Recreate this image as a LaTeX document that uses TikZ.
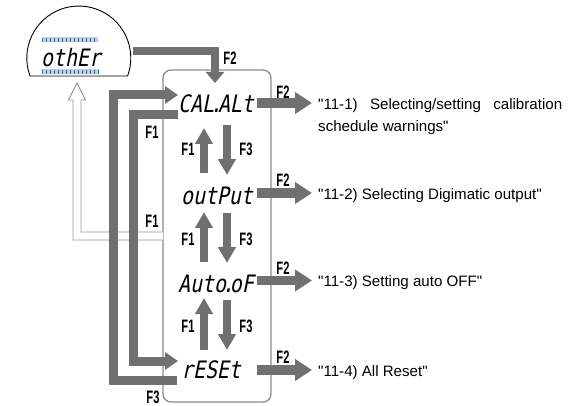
\documentclass[tikz,border=0pt]{standalone}
\usepackage{fontspec}
\setmainfont{Liberation Sans}[Ligatures=TeXOff]
\newfontfamily\segfont[FakeSlant=0.2,FakeStretch=0.83]{DejaVu Sans Mono}
\newfontfamily\keyfont[FakeStretch=0.62]{Liberation Sans}
\usetikzlibrary{arrows.meta}
\definecolor{arrowgray}{RGB}{112,112,112}
\definecolor{boxgray}{RGB}{140,140,140}
\definecolor{hollowgray}{RGB}{150,150,150}
\definecolor{lcdblue}{RGB}{180,212,240}
\definecolor{lcddark}{RGB}{70,95,130}
\begin{document}
\begin{tikzpicture}[x=1pt,y=-1pt,
  seg/.style={font=\segfont\fontsize{24}{24}\selectfont, inner sep=0pt, anchor=base},
  key/.style={font=\keyfont\bfseries\fontsize{18}{18}\selectfont, inner sep=0pt, text=black},
  desc/.style={font=\fontsize{15.1}{21}\selectfont, inner sep=0pt, anchor=base west},
  fat/.style={draw=arrowgray, line width=9.5pt, -{Triangle[length=17pt,width=21pt]}},
  loop/.style={draw=arrowgray, line width=9pt, line join=miter, -{Triangle[length=13pt,width=17pt]}},
  topflow/.style={draw=arrowgray, line width=8.5pt, line join=miter, -{Triangle[length=11pt,width=18pt]}},
  slim/.style={draw=arrowgray, line width=8.5pt, -{Triangle[length=16pt,width=17pt]}},
]
\useasboundingbox (0,0) rectangle (584,406);

% display "othEr"
\draw[line width=0.9pt] (30,76) arc[start angle=159.8, end angle=380.2, radius=52] -- cycle;
\draw[lcdblue, line width=5pt] (42,40) -- (98,40);
\draw[lcddark, line width=4pt, dash pattern=on 0.7pt off 3.3pt] (42,40) -- (98,40);
\draw[lcdblue, line width=5pt] (42,72) -- (99,72);
\draw[lcddark, line width=4pt, dash pattern=on 0.7pt off 3.3pt] (42,72) -- (99,72);
\node[seg] (oth) at (71,67) {othEr};

% menu box
\draw[boxgray, line width=1.3pt, rounded corners=8pt] (163,70) rectangle (271,402);

% hollow F1 arrow from outPut back to the display
\coordinate (hA) at (163,240);
\coordinate (hB) at (73,240);
\coordinate (hC) at (73,100);
\coordinate (hD) at (68.5,100);
\coordinate (hE) at (77,83);
\coordinate (hF) at (85.5,100);
\coordinate (hG) at (81,100);
\coordinate (hH) at (81,232);
\coordinate (hI) at (163,232);
\filldraw[fill=white, draw=hollowgray, line width=0.9pt]
  (hA) -- (hB) -- (hC) -- (hD) -- (hE) -- (hF) -- (hG) -- (hH) -- (hI);

% mode nodes
\node[seg] (cal) at (216,113) {CAL\kern-4pt.\kern-4pt ALt};
\node[seg] (out) at (217,205) {outPut};
\node[seg] (auto) at (216,292) {Auto\kern-4pt.\kern-4pt oF};
\node[seg] (rst) at (211,378) {rESEt};

% loops
\coordinate (o1) at (177,380);
\coordinate (o2) at (113,380);
\coordinate (o3) at (113,95);
\coordinate (o4) at (178,95);
\draw[loop] (o1) -- (o2) -- (o3) -- (o4);
\coordinate (i1) at (178,115);
\coordinate (i2) at (133,115);
\coordinate (i3) at (133,361);
\coordinate (i4) at (178,361);
\draw[loop] (i1) -- (i2) -- (i3) -- (i4);

% top F2 from display
\coordinate (t1) at (133,51);
\coordinate (t2) at (215,51);
\coordinate (t3) at (215,83);
\draw[topflow] (t1) -- (t2) -- (t3);

% vertical F1/F3 arrows
\coordinate (u1a) at (204,173); \coordinate (u1b) at (204,128);
\coordinate (d1a) at (227,125); \coordinate (d1b) at (227,175);
\coordinate (u2a) at (204,262); \coordinate (u2b) at (204,212);
\coordinate (d2a) at (227,213); \coordinate (d2b) at (227,263);
\coordinate (u3a) at (204,350); \coordinate (u3b) at (204,298);
\coordinate (d3a) at (227,300); \coordinate (d3b) at (227,350);
\draw[slim] (u1a) -- (u1b);
\draw[slim] (d1a) -- (d1b);
\draw[slim] (u2a) -- (u2b);
\draw[slim] (d2a) -- (d2b);
\draw[slim] (u3a) -- (u3b);
\draw[slim] (d3a) -- (d3b);

% F2 arrows to descriptions
\coordinate (r1a) at (257,103); \coordinate (r1b) at (312,103);
\coordinate (r2a) at (257,193); \coordinate (r2b) at (312,193);
\coordinate (r3a) at (257,280.5); \coordinate (r3b) at (312,280.5);
\coordinate (r4a) at (257,370); \coordinate (r4b) at (312,370);
\draw[fat] (r1a) -- (r1b);
\draw[fat] (r2a) -- (r2b);
\draw[fat] (r3a) -- (r3b);
\draw[fat] (r4a) -- (r4b);

% descriptions
\node[desc] (txt1) at (318,109.5) {\makebox[244pt][s]{"11-1) Selecting/setting calibration}};
\node[desc] (txt1b) at (318,131.5) {schedule warnings"};
\node[desc] (txt2) at (318,199.5) {"11-2) Selecting Digimatic output"};
\node[desc] (txt3) at (318,286.5) {"11-3) Setting auto OFF"};
\node[desc] (txt4) at (318,376.5) {"11-4) All Reset"};

% key labels
\node[key] (kt) at (230,58) {F2};
\node[key] (k1) at (283,92) {F2};
\node[key] (k2) at (283,180) {F2};
\node[key] (k3) at (283,268) {F2};
\node[key] (k4) at (283,357) {F2};
\node[key] (ka) at (152,132) {F1};
\node[key] (kb) at (152,221) {F1};
\node[key] (kc) at (153,397) {F3};
\node[key] (ku1) at (188,149) {F1};
\node[key] (kd1) at (246,149) {F3};
\node[key] (ku2) at (188,239) {F1};
\node[key] (kd2) at (246,239) {F3};
\node[key] (ku3) at (188,326) {F1};
\node[key] (kd3) at (246,326) {F3};
\end{tikzpicture}
\end{document}
